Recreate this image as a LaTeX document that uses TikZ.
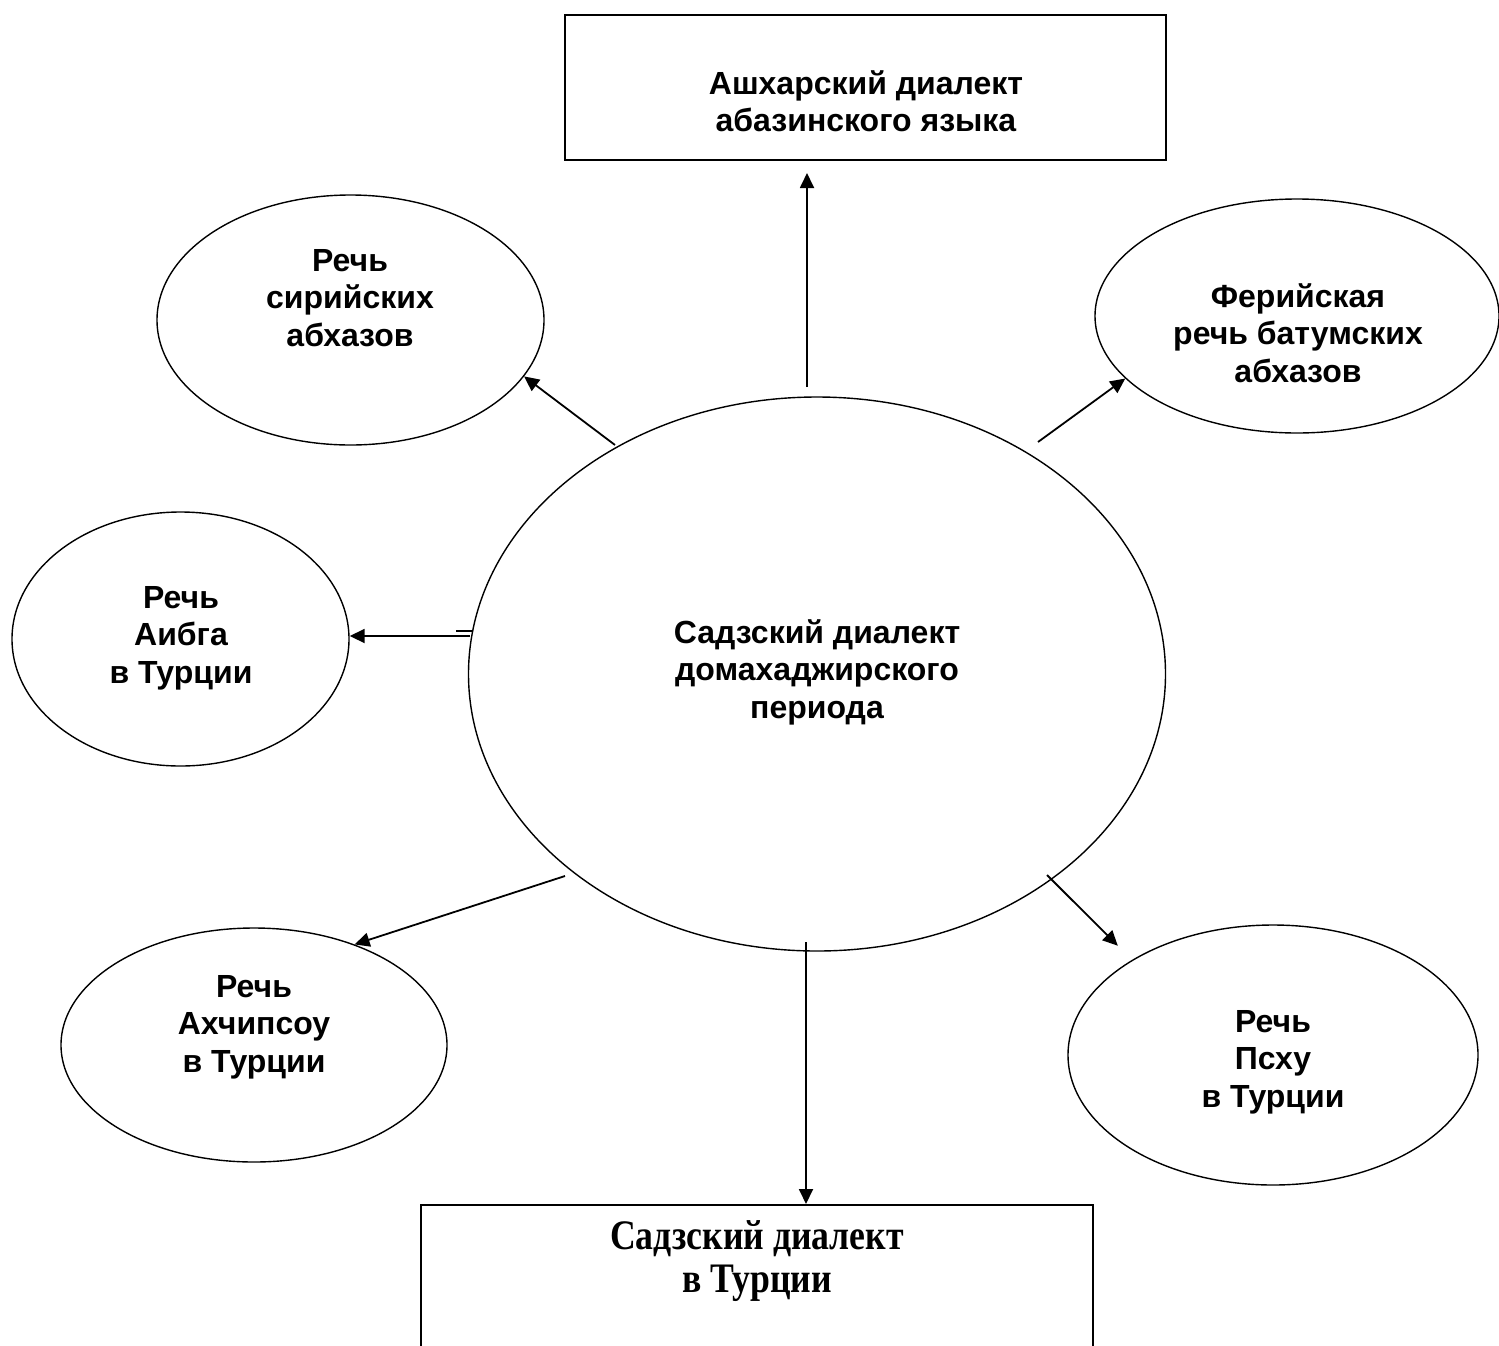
\documentclass[tikz,border=0pt]{standalone}
\usepackage{fontspec}
\setmainfont{Liberation Serif}
\setsansfont{Liberation Sans}
\usetikzlibrary{shapes.geometric,arrows.meta}

\begin{document}
\begin{tikzpicture}[x=0.5pt,y=-0.5pt,->,>={Triangle[length=7.5pt,width=7pt]},line width=0.9pt]
  \tikzstyle{oval}=[ellipse,draw,line width=0.7pt,inner sep=0pt]
  \tikzstyle{plate}=[rectangle,draw,line width=1pt,inner sep=0pt]
  \tikzstyle{txt}=[align=center,inner sep=0pt,font=\sffamily\bfseries\fontsize{16pt}{18.75pt}\selectfont]
  \tikzstyle{serif}=[align=center,inner sep=0pt,font=\rmfamily\bfseries\fontsize{21pt}{21.5pt}\selectfont\addfontfeature{FakeStretch=0.85}]
  \useasboundingbox (0,0) rectangle (1499,1345);
  % boxes
  \node[plate,minimum width=300.5pt,minimum height=72.5pt] (ashkhar) at (865.5,87.5) {};
  \node[txt] (ashkhartxt) at (866,101) {Ашхарский диалект\\абазинского языка};
  \node[plate,minimum width=336pt,minimum height=200pt] (turk) at (757,1405) {};
  \node[serif] (turktxt) at (757,1261) {Садзский диалект\\в Турции};
  % ellipses
  \node[oval,minimum width=348.5pt,minimum height=277pt] (sadz) at (817,674) {};
  \node[txt] (sadztxt) at (817,672) {Садзский диалект\\домахаджирского\\периода};
  \node[oval,minimum width=193.5pt,minimum height=125pt] (syr) at (350.5,320) {};
  \node[txt] (syrtxt) at (350,298) {Речь\\сирийских\\абхазов};
  \node[oval,minimum width=202pt,minimum height=117pt] (fer) at (1297,316) {};
  \node[txt] (fertxt) at (1298,333) {Ферийская\\речь батумских\\абхазов};
  \node[oval,minimum width=168.5pt,minimum height=127pt] (aibga) at (180.5,639) {};
  \node[txt] (aibgatxt) at (181,638) {Речь\\Аибга\\в Турции};
  \node[oval,minimum width=193pt,minimum height=117pt] (akh) at (254,1045) {};
  \node[txt] (akhtxt) at (254,1027) {Речь\\Ахчипсоу\\в Турции};
  \node[oval,minimum width=205pt,minimum height=130pt] (psxu) at (1273,1055) {};
  \node[txt] (psxutxt) at (1273,1062) {Речь\\Псху\\в Турции};
  % arrows
  \coordinate (upS) at (807,387);
  \coordinate (syrS) at (615,445);
  \coordinate (ferS) at (1038,442);
  \coordinate (aibS) at (470,636);
  \coordinate (akhS) at (565,876);
  \coordinate (psxS) at (1047,875);
  \coordinate (downS) at (806,942);
  \draw[shorten >=6pt] (upS) -- (upS |- ashkhar.south);
  \draw (syrS) -- (syr.-18);
  \draw (ferS) -- (fer.-160);
  \draw (aibS) -- (aibS -| aibga.east);
  \draw[-,line width=0.7pt] (456,631) -- (473,631);
  \draw (akhS) -- (akh.45);
  \draw[shorten >=10pt] (psxS) -- (psxu.146);
  \draw (downS) -- (downS |- turk.north);
\end{tikzpicture}
\end{document}
